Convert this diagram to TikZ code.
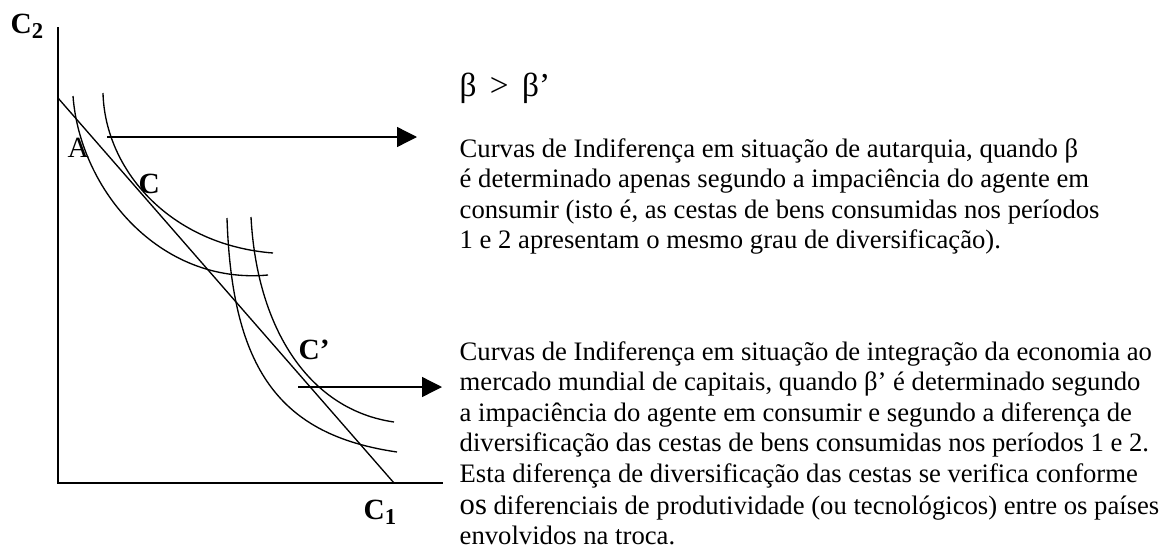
\documentclass[tikz,border=0pt]{standalone}
\usepackage{fontspec}
\setmainfont{Liberation Serif}
\usetikzlibrary{arrows.meta}
\begin{document}
\begin{tikzpicture}[x=0.75pt,y=-0.75pt, line width=1pt,
  lbl/.style={inner sep=0pt, anchor=base west, font=\fontsize{22}{22}\selectfont\bfseries},
  lblr/.style={inner sep=0pt, anchor=base west, font=\fontsize{22}{22}\selectfont},
  txt/.style={inner sep=0pt, anchor=base west, font=\fontsize{20}{23}\selectfont},
  pointer/.style={-{Triangle[length=15pt,width=15pt]}, line width=1pt}]
\useasboundingbox (0,0) rectangle (1167,557);
% axes
\coordinate (O) at (58,483);
\coordinate (Ytop) at (58,27);
\coordinate (Xend) at (443,483);
\draw (Ytop) -- (O) -- (Xend);
% budget line
\coordinate (B1) at (58,98);
\coordinate (B2) at (394,483);
\draw (B1) -- (B2);
% autarky indifference curves
\coordinate (a1s) at (73,96);
\coordinate (a1e) at (268,275);
\draw (a1s) .. controls (80,190) and (160,285) .. (a1e);
\coordinate (a2s) at (103,93);
\coordinate (a2e) at (273,253);
\draw (a2s) .. controls (105,170) and (170,245) .. (a2e);
% integration indifference curves
\coordinate (i1s) at (227,218);
\coordinate (i1e) at (397,452);
\draw (i1s) .. controls (232,370) and (280,435) .. (i1e);
\coordinate (i2s) at (251,217);
\coordinate (i2e) at (394,422);
\draw (i2s) .. controls (257,330) and (310,410) .. (i2e);
% pointers
\coordinate (p1s) at (107,137);
\coordinate (p1e) at (417,137);
\draw[pointer] (p1s) -- (p1e);
\coordinate (p2s) at (298,387);
\coordinate (p2e) at (442,387);
\draw[pointer] (p2s) -- (p2e);
% labels
\node[lbl] (c2) at (10,33) {C\raisebox{-0.2em}{\fontsize{17}{17}\selectfont 2}};
\node[lbl] (c1) at (363,519) {C\raisebox{-0.2em}{\fontsize{17}{17}\selectfont 1}};
\node[lblr] (la) at (67,157) {A};
\node[lbl] (lc) at (138,193) {C};
\node[lbl] (lcp) at (298,359) {C’};
% texts
\node[inner sep=0pt, anchor=base west, font=\fontsize{25}{28}\selectfont] (beta) at (459,96) {β\hspace{0.4em}>\hspace{0.4em}β’};
\node[txt] (t1) at (459,157) {Curvas de Indiferença em situação de autarquia, quando β};
\node[txt] (t2) at (459,187.5) {é determinado apenas segundo a impaciência do agente em};
\node[txt] (t3) at (459,218) {consumir (isto é, as cestas de bens consumidas nos períodos};
\node[txt] (t4) at (459,248.5) {1 e 2 apresentam o mesmo grau de diversificação).};
\node[txt] (u1) at (459,360) {Curvas de Indiferença em situação de integração da economia ao};
\node[txt] (u2) at (459,390.5) {mercado mundial de capitais, quando β’ é determinado segundo};
\node[txt] (u3) at (459,421) {a impaciência do agente em consumir e segundo a diferença de};
\node[txt] (u4) at (459,451.5) {diversificação das cestas de bens consumidas nos períodos 1 e 2.};
\node[txt] (u5) at (459,482) {Esta diferença de diversificação das cestas se verifica conforme};
\node[txt] (u6) at (459,514) {{\fontsize{23}{23}\selectfont os} diferenciais de produtividade (ou tecnológicos) entre os países};
\node[txt] (u7) at (459,544) {envolvidos na troca.};
\end{tikzpicture}
\end{document}
